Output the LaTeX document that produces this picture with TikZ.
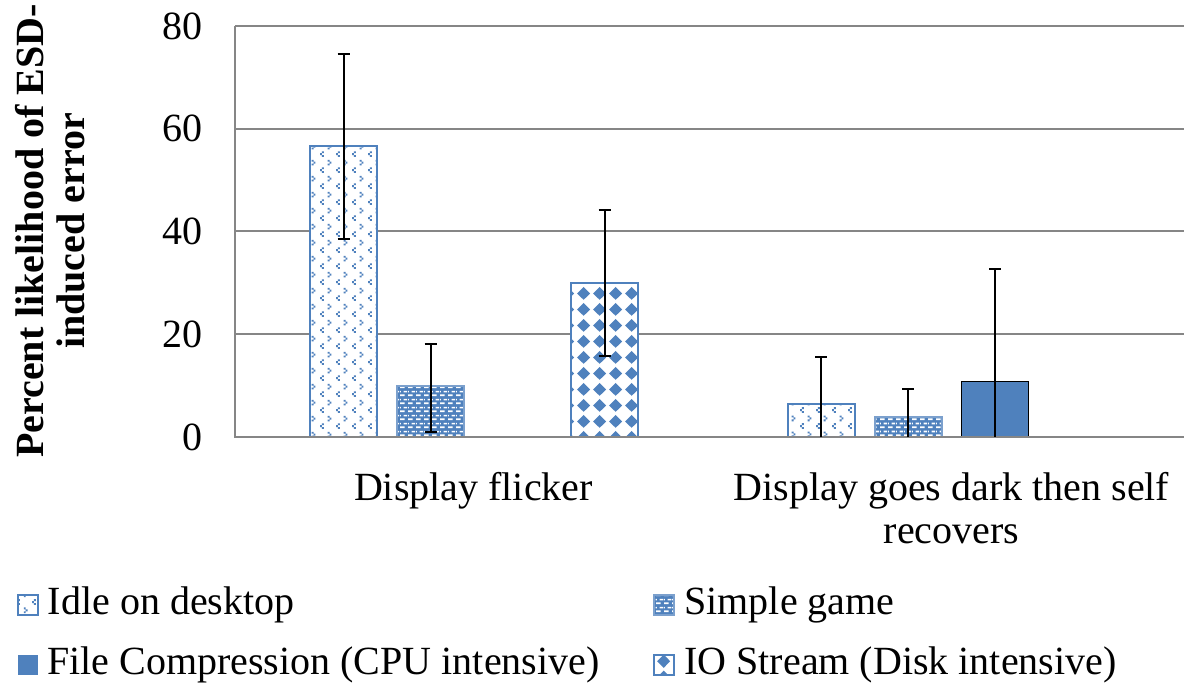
\documentclass[tikz,border=0pt]{standalone}
\usepackage{fontspec}
\setmainfont{Liberation Serif}
\usetikzlibrary{positioning,patterns}

\definecolor{barblue}{HTML}{4F81BD}
\definecolor{gridgray}{HTML}{868686}

% Fill patterns of the series
\pgfdeclarepatternformonly{idledots}{\pgfqpoint{0pt}{0pt}}{\pgfqpoint{8pt}{8pt}}{\pgfqpoint{8pt}{8pt}}{%
  \pgfpathrectangle{\pgfqpoint{1pt}{0pt}}{\pgfqpoint{1pt}{1pt}}%
  \pgfpathrectangle{\pgfqpoint{0pt}{1pt}}{\pgfqpoint{1pt}{1pt}}%
  \pgfpathrectangle{\pgfqpoint{1pt}{2pt}}{\pgfqpoint{1pt}{1pt}}%
  \pgfpathrectangle{\pgfqpoint{4pt}{4pt}}{\pgfqpoint{1pt}{1pt}}%
  \pgfpathrectangle{\pgfqpoint{5pt}{5pt}}{\pgfqpoint{1pt}{1pt}}%
  \pgfpathrectangle{\pgfqpoint{4pt}{6pt}}{\pgfqpoint{1pt}{1pt}}%
  \pgfusepath{fill}}
\pgfdeclarepatternformonly{gamebricks}{\pgfqpoint{0pt}{0pt}}{\pgfqpoint{4pt}{4pt}}{\pgfqpoint{4pt}{4pt}}{%
  \pgfpathrectangle{\pgfqpoint{0pt}{0.5pt}}{\pgfqpoint{2.5pt}{0.9pt}}%
  \pgfpathrectangle{\pgfqpoint{2pt}{2.5pt}}{\pgfqpoint{2pt}{0.9pt}}%
  \pgfpathrectangle{\pgfqpoint{0pt}{2.5pt}}{\pgfqpoint{0.5pt}{0.9pt}}%
  \pgfusepath{fill}}
\pgfdeclarepatternformonly{iodiamonds}{\pgfqpoint{0pt}{0pt}}{\pgfqpoint{8pt}{8pt}}{\pgfqpoint{8pt}{8pt}}{%
  \pgfpathmoveto{\pgfqpoint{4pt}{0.6pt}}%
  \pgfpathlineto{\pgfqpoint{7.4pt}{4pt}}%
  \pgfpathlineto{\pgfqpoint{4pt}{7.4pt}}%
  \pgfpathlineto{\pgfqpoint{0.6pt}{4pt}}%
  \pgfpathclose
  \pgfusepath{fill}}

% value -> vertical position
\newcommand{\valy}[1]{248+5.1375*(#1)}

\begin{document}
\begin{tikzpicture}[x=0.5pt, y=0.5pt,
      gridline/.style={gridgray, line width=1pt},
      errbar/.style={black, line width=1pt},
      tick/.style={font=\fontsize{20}{24}\selectfont, anchor=east, inner sep=0pt},
      catlabel/.style={font=\fontsize{20}{21.5}\selectfont, align=center, anchor=north, inner sep=0pt},
      legtext/.style={font=\fontsize{20}{24}\selectfont, inner sep=0pt},
      legbox/.style={minimum size=10pt, inner sep=0pt},
      idlebar/.style={draw=barblue, line width=1pt, preaction={fill=white}, pattern=idledots, pattern color=barblue},
      gamebar/.style={draw=barblue!75, line width=1pt, preaction={fill=barblue}, pattern=gamebricks, pattern color=white},
      cpubar/.style={fill=barblue},
      iobar/.style={draw=barblue, line width=1pt, preaction={fill=white}, pattern=iodiamonds, pattern color=barblue}]

      \useasboundingbox (0,0) rectangle (1184,685);

      % Gridlines
      \foreach \v in {20,40,60,80}
          \draw[gridline] (235,{\valy{\v}}) -- (1184,{\valy{\v}});

      % Bars of both categories
      \foreach \xc/\v/\sty in {343.5/56.6/idlebar, 430.5/9.9/gamebar, 604.5/30.0/iobar,
                               821/6.5/idlebar, 908/3.9/gamebar, 995/10.9/cpubar}
          \draw[\sty] ({\xc-33.5},{\valy{0}}) rectangle ({\xc+33.5},{\valy{\v}});

      % Axes
      \draw[gridline] (235,{\valy{80}}) -- (235,{\valy{0}}) -- (1184,{\valy{0}});

      % Error bars
      \foreach \xc/\lo/\hi/\locap in {343.5/38.5/74.6/1, 430.5/1.0/18.1/1, 604.5/15.8/44.2/1,
                                      821/0/15.6/0, 908/0/9.3/0, 995/0/32.7/0} {
          \draw[errbar] (\xc,{\valy{\lo}}) -- (\xc,{\valy{\hi}});
          \draw[errbar] ({\xc-6},{\valy{\hi}}) -- ({\xc+6},{\valy{\hi}});
          \ifnum\locap=1
              \draw[errbar] ({\xc-6},{\valy{\lo}}) -- ({\xc+6},{\valy{\lo}});
          \fi
      }

      % Tick labels
      \foreach \v in {0,20,40,60,80}
          \node[tick] (tick\v) at (203,{\valy{\v}}) {\v};

      % Axis title
      \node[font=\fontsize{20}{20.5}\selectfont\bfseries, align=center, rotate=90]
          (ytitle) at (50,454) {Percent likelihood of ESD-\\induced error};

      % Category labels
      \node[catlabel] (catflicker) at (473.5,213) {Display flicker};
      \node[catlabel] (catdark) at (951.5,213) {Display goes dark then self\\recovers};

      % Legend
      \node[legbox, idlebar] (legidle) at (27.5,80) {};
      \node[legtext, right=4.5pt of legidle] (txtidle) {Idle on desktop};
      \node[legbox, gamebar] (leggame) at (664,80) {};
      \node[legtext, right=4.5pt of leggame] (txtgame) {Simple game};
      \node[legbox, cpubar] (legcpu) at (27.5,20) {};
      \node[legtext, right=4.5pt of legcpu] (txtcpu) {File Compression (CPU intensive)};
      \node[legbox, iobar] (legio) at (664,20) {};
      \node[legtext, right=4.5pt of legio] (txtio) {IO Stream (Disk intensive)};

\end{tikzpicture}
\end{document}
